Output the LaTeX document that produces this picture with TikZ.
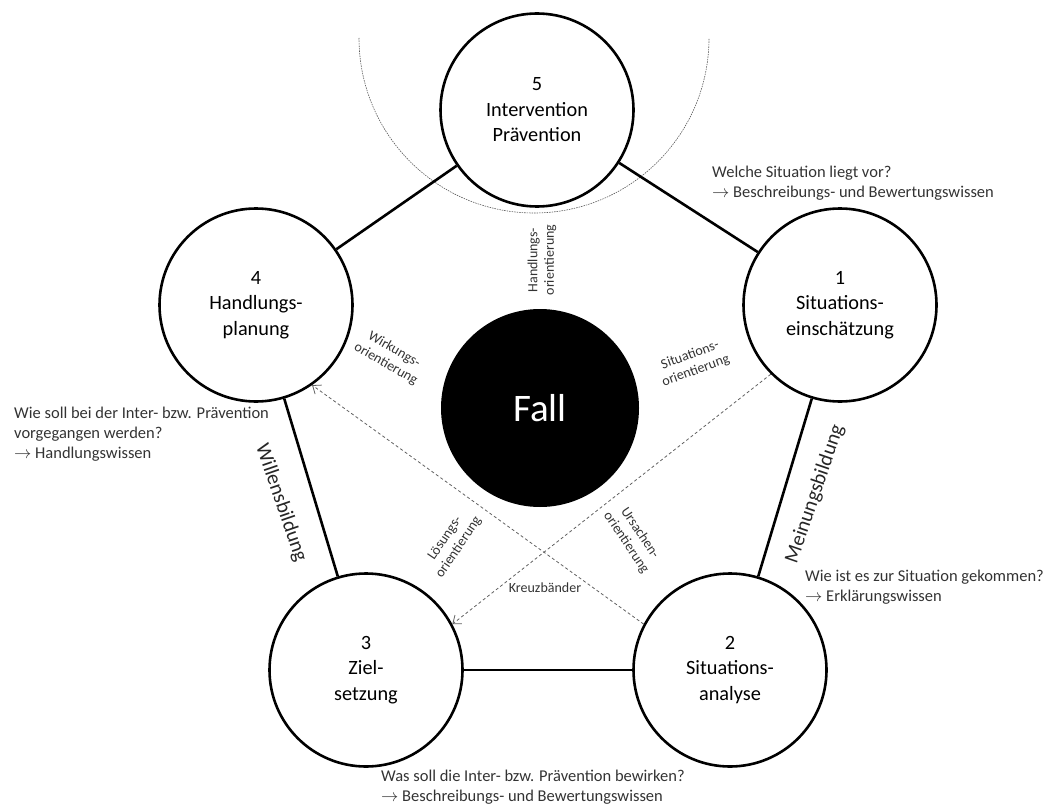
\documentclass[tikz,border=0pt]{standalone}
\usepackage{fontspec}
\setmainfont{Carlito}
\usepackage{tikz}
\usetikzlibrary{arrows.meta}

\tikzset{
  phase/.style={circle, draw, line width=2.6pt, minimum size=193pt, inner sep=0pt,
    align=center, font=\fontsize{20.3}{25.5}\selectfont},
  verb/.style={line width=2.6pt},
  kreuz/.style={draw=black!62, line width=0.8pt, dash pattern=on 3pt off 2.5pt,
    -{Straight Barb[length=7pt,width=11pt]}},
  bogen/.style={draw=black!65, line width=0.6pt, dash pattern=on 1.5pt off 1pt},
  orient/.style={align=center, text=black!80, inner sep=0pt,
    font=\fontsize{14}{16.5}\selectfont},
  bildung/.style={text=black!85, inner sep=0pt, font=\fontsize{20.5}{24}\selectfont},
  frage/.style={anchor=north west, align=left, inner sep=0pt, text=black!80,
    font=\fontsize{16.5}{19.7}\selectfont}
}

\begin{document}
\begin{tikzpicture}[x=1pt,y=-1pt]
    \useasboundingbox (0,0) rectangle (1043,805);
    % Bogen um Schritt 5
    \draw[bogen] (359,38) arc[start angle=180, end angle=0, radius=175];
    % die fuenf Schritte
    \node[phase] (p5) at (537,110) {5\\Intervention\\Prävention};
    \node[phase] (p1) at (840,305) {1\\Situations-\\einschätzung};
    \node[phase] (p2) at (730,670) {2\\Situations-\\analyse};
    \node[phase] (p3) at (366,670) {3\\Ziel-\\setzung};
    \node[phase] (p4) at (256,305) {4\\Handlungs-\\planung};
    \node[circle, fill=black, minimum size=198pt, inner sep=0pt, text=white,
        font=\fontsize{39}{45}\selectfont] (fall) at (540,408) {Fall};
    \draw[verb] (p5) -- (p1);
    \draw[verb] (p1) -- (p2);
    \draw[verb] (p2) -- (p3);
    \draw[verb] (p3) -- (p4);
    \draw[verb] (p4) -- (p5);
    % Kreuzbaender
    \draw[kreuz] (p2.152) -- (p4.-55);
    \draw[kreuz] (p1.225) -- (p3.28);
    \node[orient, rotate=90] (lhand) at (542,260) {Handlungs-\\orientierung};
    \node[orient, rotate=-30] (lwirk) at (390,357) {Wirkungs-\\orientierung};
    \node[orient, rotate=20] (lsit) at (693,363) {Situations-\\orientierung};
    \node[orient, rotate=56] (lloes) at (452,543) {Lösungs-\\orientierung};
    \node[orient, rotate=-56] (lurs) at (633,538) {Ursachen-\\orientierung};
    \node[orient] (kreuzb) at (545,588) {Kreuzbänder};
    \node[bildung, rotate=-71] (wille) at (281,503) {Willensbildung};
    \node[bildung, rotate=71] (meinung) at (815,494) {Meinungsbildung};
    % Fragen
    \node[frage] (q1) at (712,166) {Welche Situation liegt vor?\\$\rightarrow$ Beschreibungs- und Bewertungswissen};
    \node[frage] (q4) at (14,407) {Wie soll bei der Inter- bzw. Prävention\\vorgegangen werden?\\$\rightarrow$ Handlungswissen};
    \node[frage] (q2) at (805,570) {Wie ist es zur Situation gekommen?\\$\rightarrow$ Erklärungswissen};
    \node[frage] (q3) at (381,770) {Was soll die Inter- bzw. Prävention bewirken?\\$\rightarrow$ Beschreibungs- und Bewertungswissen};
\end{tikzpicture}
\end{document}
